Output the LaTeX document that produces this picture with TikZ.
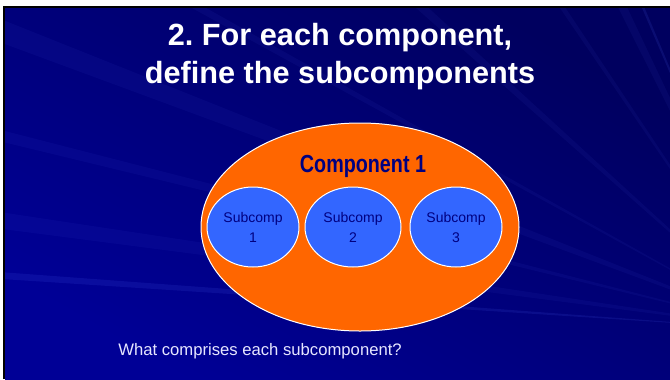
\documentclass[tikz,border=0pt]{standalone}
\usepackage{fontspec}
\setmainfont{Liberation Sans}
\usetikzlibrary{shapes.geometric}
\definecolor{slideblue}{RGB}{0,0,150}
\definecolor{slidedark}{RGB}{0,0,95}
\definecolor{rayblue}{RGB}{90,110,255}
\definecolor{compfill}{RGB}{255,102,0}
\definecolor{subfill}{RGB}{51,102,255}
\definecolor{navytext}{RGB}{0,0,128}
\definecolor{notetext}{RGB}{230,230,255}
\frenchspacing
\begin{document}
\begin{tikzpicture}[
  x=0.75pt, y=-0.75pt,
  comp/.style={ellipse, draw=white, line width=0.75pt, fill=compfill, inner sep=0pt},
  subcomp/.style={ellipse, draw=white, line width=0.75pt, fill=subfill, inner sep=0pt,
    minimum width=69pt, minimum height=60pt, align=center, text=navytext,
    font=\fontsize{10.5}{15}\selectfont},
  ray/.style={fill=rayblue, fill opacity=0.06},
]
  % page and slide frame
  \fill[white] (0,0) rectangle (670,379);
  \fill[black] (3,6) rectangle (670,379);
  \shade[top color=slidedark, bottom color=slideblue, shading angle=-30] (5,8) rectangle (670,379);

  % light rays of the background
  \begin{scope}
    \clip (5,8) rectangle (670,379);
    \coordinate (focus) at (780,330);
    \foreach \a/\w in {188/1.2, 194/0.8, 201/1.5, 209/0.6, 222/1.0, 236/0.7, 244/1.3, 252/0.9}
      \fill[ray] (focus) -- ++(\a-\w/2:900) -- ++(\a+90:{900*sin(\w)}) -- cycle;
    \foreach \a/\w in {184/0.5, 247/0.4}
      \fill[ray, fill opacity=0.12] (focus) -- ++(\a-\w/2:900) -- ++(\a+90:{900*sin(\w)}) -- cycle;
  \end{scope}

  % title
  \node[align=center, text=white, font=\bfseries\fontsize{23}{28.5}\selectfont]
    (title) at (340,57) {2. For each component,\\define the subcomponents};

  % component with its subcomponents
  \node[comp, minimum width=238.5pt, minimum height=156pt] (comp) at (360,227) {};
  \node[anchor=base, text=navytext, font=\bfseries\fontsize{18.5}{20}\selectfont]
    (compLabel) at (363,172) {\scalebox{0.8}[1]{Component 1}};

  \node[subcomp] (sub1) at (253,227) {Subcomp\\1};
  \node[subcomp, minimum width=72pt] (sub2) at (353,227) {Subcomp\\2};
  \node[subcomp] (sub3) at (456,227) {Subcomp\\3};

  \node[anchor=base west, inner sep=0pt, text=notetext, font=\fontsize{12.5}{15}\selectfont]
    (question) at (118,355) {What comprises each subcomponent?};
\end{tikzpicture}
\end{document}
